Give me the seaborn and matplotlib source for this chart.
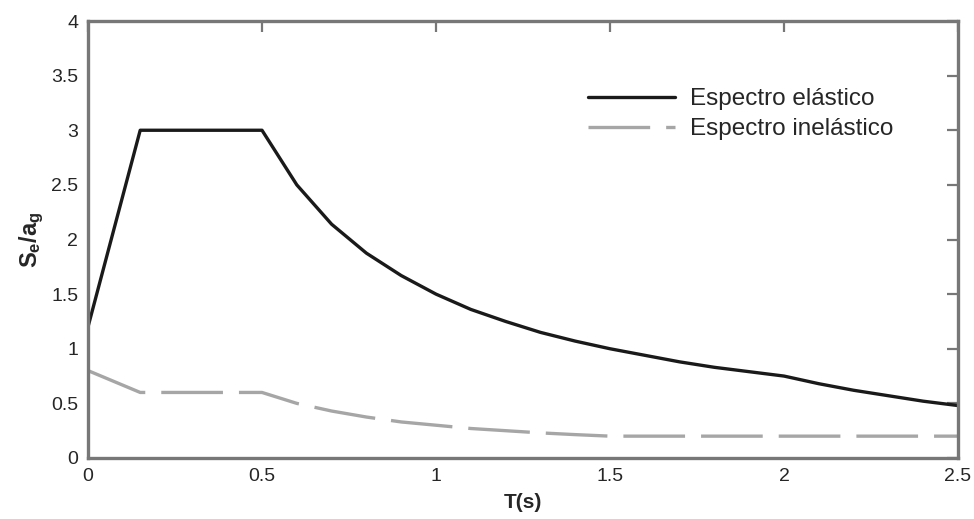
import numpy as np
import pandas as pd
import matplotlib
matplotlib.use("Agg")
import matplotlib.pyplot as plt
import seaborn as sns

# Data
T = [0.0, 0.15, 0.5, 0.6, 0.7, 0.8, 0.9, 1.0, 1.1, 1.2, 1.3, 1.4, 1.5, 1.6, 1.7, 1.8, 1.9, 2.0, 2.1, 2.2, 2.3, 2.4, 2.5]
elastic = [1.2, 3.0, 3.0, 2.5, 2.14, 1.875, 1.67, 1.5, 1.36, 1.25, 1.15, 1.07, 1.0, 0.94, 0.88, 0.83, 0.79, 0.75, 0.68, 0.62, 0.57, 0.52, 0.48]
inelastic = [0.8, 0.6, 0.6, 0.5, 0.43, 0.375, 0.33, 0.3, 0.27, 0.25, 0.23, 0.214, 0.2, 0.2, 0.2, 0.2, 0.2, 0.2, 0.2, 0.2, 0.2, 0.2, 0.2]
labels = ["Espectro elástico", "Espectro inelástico"]
xticks = [0, 0.5, 1, 1.5, 2, 2.5]
xticklabels = ["0", "0.5", "1", "1.5", "2", "2.5"]
yticks = [0, 0.5, 1, 1.5, 2, 2.5, 3, 3.5, 4]
yticklabels = ["0", "0.5", "1", "1.5", "2", "2.5", "3", "3.5", "4"]

sns.set_style("white")
plt.rcParams['font.family'] = ['Liberation Sans', 'DejaVu Sans']
plt.rcParams['mathtext.fontset'] = 'custom'
plt.rcParams['mathtext.rm'] = 'Liberation Sans:bold'
plt.rcParams['mathtext.it'] = 'Liberation Sans:bold'
plt.rcParams['mathtext.bf'] = 'Liberation Sans:bold'

fig = plt.figure(figsize=(9.74, 5.19), dpi=100)
ax = fig.add_axes([88/974, 1 - 458/519, (958-88)/974, (458-21)/519])

df_e = pd.DataFrame({"T": T, "v": elastic})
df_i = pd.DataFrame({"T": T, "v": inelastic})
sns.lineplot(data=df_e, x="T", y="v", ax=ax, color="#1a1a1a", lw=2.4, label=labels[0])
sns.lineplot(data=df_i, x="T", y="v", ax=ax, color="#a6a6a6", lw=2.4, label=labels[1])
ax.lines[1].set_dashes([18.5, 4.8])

ax.set_xlim(0, 2.5)
ax.set_ylim(0, 4)
ax.set_xticks(xticks)
ax.set_yticks(yticks)
ax.set_xticklabels(xticklabels)
ax.set_yticklabels(yticklabels)
ax.tick_params(direction="in", length=8, width=1.6, color="#777777", labelsize=14,
               top=True, right=True, pad=7)
for s in ax.spines.values():
    s.set_color("#777777")
    s.set_linewidth(2.4)
    s.set_visible(True)

ax.set_xlabel("T(s)", fontsize=15, fontweight="bold", labelpad=6)
ax.set_ylabel(r"$\mathrm{S_e/a_g}$", fontsize=17, labelpad=4)

leg = ax.legend(loc="upper left", bbox_to_anchor=(0.5635, 0.868), frameon=False, fontsize=17.5,
                handlelength=3.6, handletextpad=0.6, labelspacing=0.32, borderaxespad=0)

fig.savefig("out.png", dpi=100)
